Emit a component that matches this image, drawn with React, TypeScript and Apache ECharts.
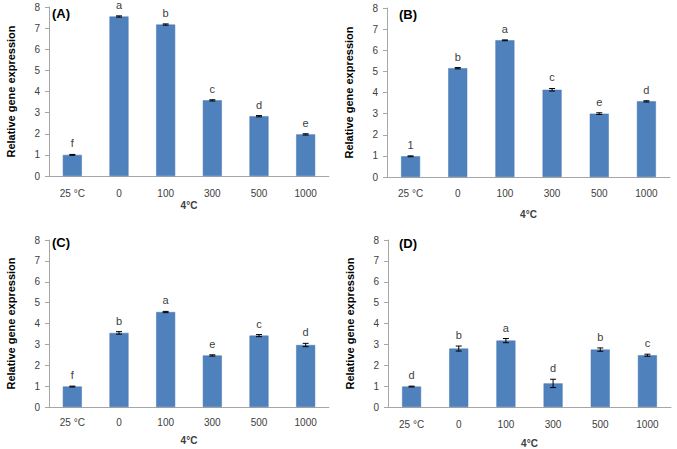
import React, { useEffect, useRef } from "react";
import * as echarts from "echarts";

const categories = ["25 °C", "0", "100", "300", "500", "1000"];
const panelTitles = ["(A)", "(B)", "(C)", "(D)"];
const yTicks = [0, 1, 2, 3, 4, 5, 6, 7, 8];

const valuesA = [1.0, 7.55, 7.17, 3.58, 2.83, 1.97];
const errorsA = [0.02, 0.03, 0.03, 0.03, 0.03, 0.03];
const lettersA = ["f", "a", "b", "c", "d", "e"];

const valuesB = [0.98, 5.15, 6.47, 4.13, 3.0, 3.58];
const errorsB = [0.02, 0.03, 0.02, 0.06, 0.04, 0.03];
const lettersB = ["1", "b", "a", "c", "e", "d"];

const valuesC = [0.98, 3.55, 4.55, 2.47, 3.42, 2.97];
const errorsC = [0.02, 0.06, 0.03, 0.03, 0.05, 0.08];
const lettersC = ["f", "b", "a", "e", "c", "d"];

const valuesD = [0.98, 2.8, 3.18, 1.13, 2.75, 2.48];
const errorsD = [0.02, 0.12, 0.1, 0.2, 0.08, 0.05];
const lettersD = ["d", "b", "a", "d", "b", "c"];

const allValues = [valuesA, valuesB, valuesC, valuesD];
const allErrors = [errorsA, errorsB, errorsC, errorsD];
const allLetters = [lettersA, lettersB, lettersC, lettersD];

const grids = [
  { left: 49, top: 7, width: 280, height: 169, nameGap: 24, labelMargin: 12, titleX: 52, titleY: 7 },
  { left: 387, top: 8, width: 283, height: 169, nameGap: 32, labelMargin: 11, titleX: 399, titleY: 8 },
  { left: 49, top: 240, width: 280, height: 167, nameGap: 28, labelMargin: 10, titleX: 52, titleY: 236 },
  { left: 388, top: 240, width: 283, height: 167, nameGap: 31, labelMargin: 12, titleX: 399, titleY: 237 },
];

const FONT = "'Liberation Sans', Arial, sans-serif";
const BAR = "#4F81BD";

export default function App() {
  const ref = useRef<HTMLDivElement>(null);
  useEffect(() => {
    if (!ref.current) return;
    const chart = echarts.init(ref.current, null, { renderer: "svg" });
    const series: any[] = [];
    allValues.forEach((vals, k) => {
      const errs = allErrors[k];
      const letters = allLetters[k];
      series.push({
        type: "bar",
        xAxisIndex: k,
        yAxisIndex: k,
        data: vals,
        barWidth: 19,
        itemStyle: { color: BAR, borderColor: "#4576b0", borderWidth: 0.5 },
        silent: true,
      });
      series.push({
        type: "custom",
        xAxisIndex: k,
        yAxisIndex: k,
        z: 5,
        data: vals.map((v, i) => [i, v, errs[i]]),
        renderItem: (params: any, api: any) => {
          const i = api.value(0);
          const v = api.value(1);
          const e = api.value(2);
          const top = api.coord([i, v + e]);
          const bot = api.coord([i, v - e]);
          const cap = 3;
          const ls = { stroke: "#000", lineWidth: 1 };
          return {
            type: "group",
            children: [
              { type: "line", shape: { x1: top[0], y1: top[1], x2: bot[0], y2: bot[1] }, style: ls },
              { type: "line", shape: { x1: top[0] - cap, y1: top[1], x2: top[0] + cap, y2: top[1] }, style: ls },
              { type: "line", shape: { x1: bot[0] - cap, y1: bot[1], x2: bot[0] + cap, y2: bot[1] }, style: ls },
              {
                type: "text",
                x: top[0],
                y: top[1] - 11,
                style: {
                  text: letters[params.dataIndex],
                  fill: "#404040",
                  fontSize: 11,
                  fontFamily: FONT,
                  align: "center",
                  verticalAlign: "middle",
                },
              },
            ],
          };
        },
      });
    });

    chart.setOption({
      animation: false,
      backgroundColor: "#fff",
      textStyle: { fontFamily: FONT },
      title: grids.map((g, k) => ({
        text: panelTitles[k],
        left: g.titleX,
        top: g.titleY,
        padding: 0,
        textStyle: { fontSize: 13, fontWeight: "bold", color: "#000", fontFamily: FONT },
      })),
      grid: grids.map((g) => ({ left: g.left, top: g.top, width: g.width, height: g.height, containLabel: false })),
      xAxis: grids.map((g, k) => ({
        type: "category",
        gridIndex: k,
        data: categories,
        name: "4°C",
        nameLocation: "middle",
        nameGap: g.nameGap,
        nameTextStyle: { fontSize: 10, color: "#404040", fontWeight: "bold", fontFamily: FONT },
        axisLine: { lineStyle: { color: "#a6a6a6", width: 1 } },
        axisTick: { show: false },
        axisLabel: { fontSize: 10, color: "#404040", margin: g.labelMargin, interval: 0, fontFamily: FONT },
        splitLine: { show: false },
      })),
      yAxis: grids.map((g, k) => ({
        type: "value",
        gridIndex: k,
        min: yTicks[0],
        max: yTicks[yTicks.length - 1],
        interval: 1,
        name: "Relative gene expression",
        nameLocation: "middle",
        nameGap: 33,
        nameTextStyle: { fontSize: 11, color: "#000", fontWeight: "bold", fontFamily: FONT },
        axisLine: { show: true, lineStyle: { color: "#a6a6a6", width: 1 } },
        axisTick: { show: true, length: 4, lineStyle: { color: "#a6a6a6" } },
        axisLabel: { fontSize: 10, color: "#404040", margin: 9, fontFamily: FONT },
        splitLine: { show: false },
      })),
      series,
    });
    return () => chart.dispose();
  }, []);
  return (
    <div
      ref={ref}
      style={{ position: "fixed", left: 0, top: 0, width: 677, height: 449, background: "#fff" }}
    />
  );
}
